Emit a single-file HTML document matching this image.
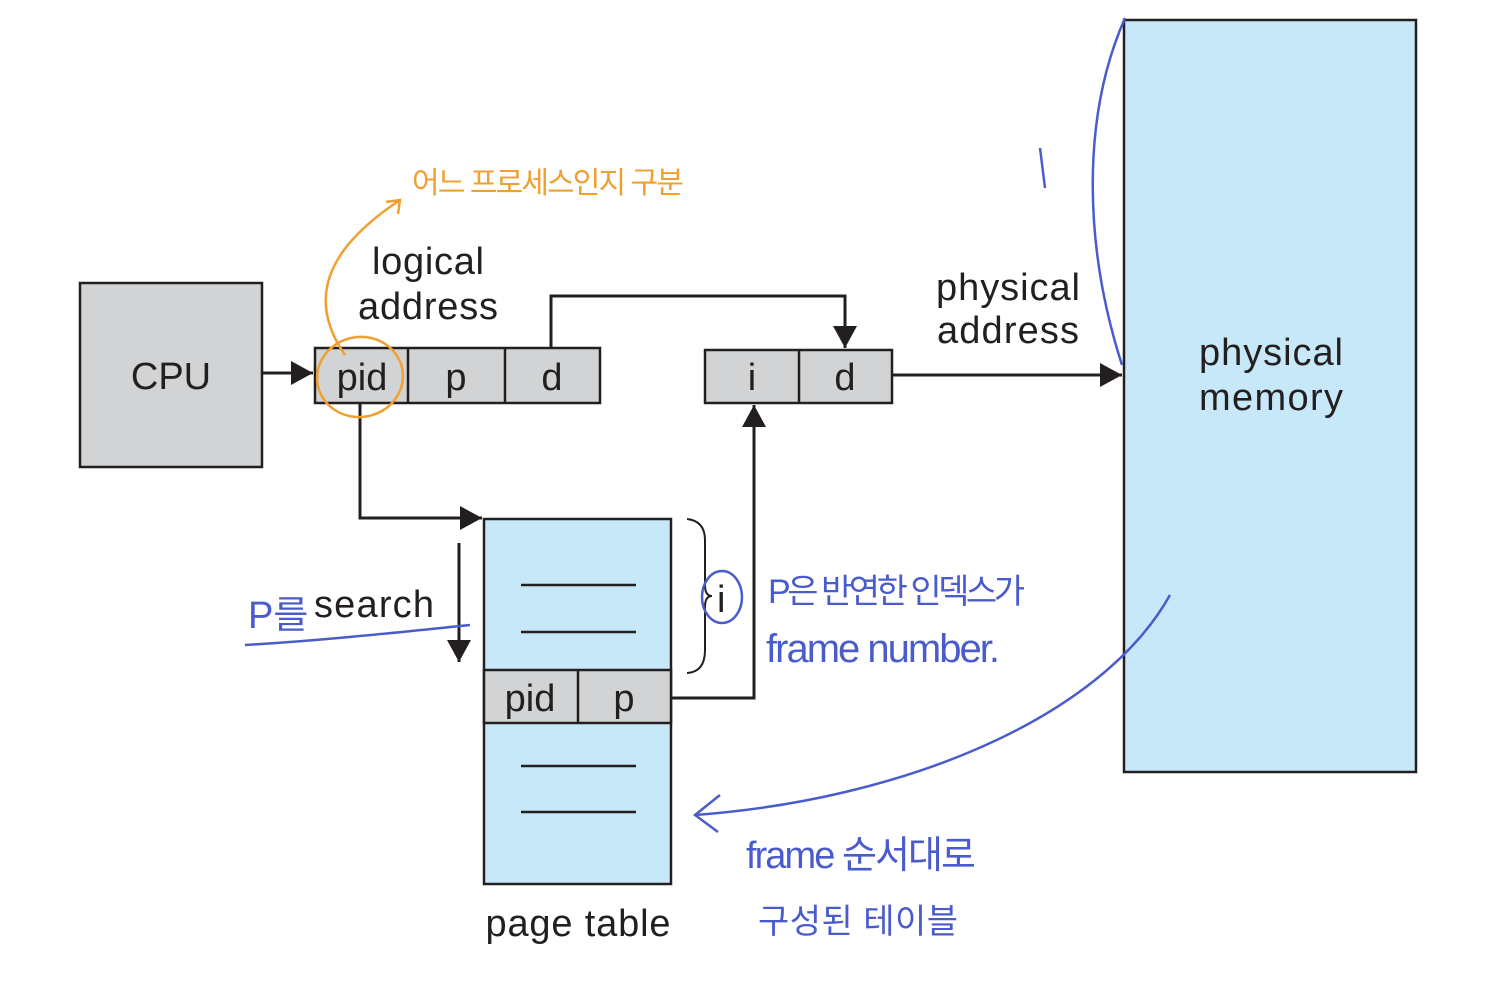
<!DOCTYPE html>
<html><head><meta charset="utf-8"><style>
html,body{margin:0;padding:0;background:#fff;width:1485px;height:1000px;overflow:hidden}
svg{display:block}
text{font-family:"Liberation Sans",sans-serif;fill:#231f20}
.h{font-family:"Liberation Sans","Noto Sans CJK KR",sans-serif}
</style></head><body>
<svg width="1485" height="1000" viewBox="0 0 1485 1000">
<defs><marker id="b" markerWidth="24" markerHeight="24" refX="22" refY="12" orient="auto" markerUnits="userSpaceOnUse"><path d="M0,0 L22,12 L0,24z" fill="#231f20"/></marker></defs>
<g stroke="#231f20" stroke-width="2.5">
<rect x="80" y="283" width="182" height="184" fill="#d1d3d4"/>
<rect x="315" y="348" width="285" height="55" fill="#d1d3d4"/>
<line x1="408" y1="348" x2="408" y2="403"/><line x1="505" y1="348" x2="505" y2="403"/>
<rect x="705" y="350" width="187" height="53" fill="#d1d3d4"/>
<line x1="799" y1="350" x2="799" y2="403"/>
<rect x="1124" y="20" width="292" height="752" fill="#c7e8f9"/>
<rect x="484" y="519" width="187" height="365" fill="#c7e8f9"/>
<rect x="484" y="670" width="187" height="53" fill="#d1d3d4"/>
<line x1="578" y1="670" x2="578" y2="723"/>
<line x1="521" y1="585" x2="636" y2="585"/><line x1="521" y1="632" x2="636" y2="632"/>
<line x1="521" y1="766" x2="636" y2="766"/><line x1="521" y1="812" x2="636" y2="812"/>
<g fill="none" stroke-width="3">
<polyline points="262,373 313,373" marker-end="url(#b)"/>
<polyline points="551,348 551,296 845,296 845,348" marker-end="url(#b)"/>
<polyline points="360,403 360,518 482,518" marker-end="url(#b)"/>
<polyline points="671,698 754,698 754,405" marker-end="url(#b)"/>
<polyline points="892,375 1122,375" marker-end="url(#b)"/>
<polyline points="459,543 459,662" marker-end="url(#b)"/>
<path d="M687,519 Q705,521 705,540 L705,585 Q705,596 712,596 Q705,596 705,607 L705,650 Q705,672 687,673" stroke-width="2"/>
</g></g>
<g font-size="38">
<text x="171" y="389" text-anchor="middle">CPU</text>
<text x="362" y="390" text-anchor="middle">pid</text>
<text x="456" y="390" text-anchor="middle">p</text>
<text x="552" y="390" text-anchor="middle">d</text>
<text x="752" y="390" text-anchor="middle">i</text>
<text x="845" y="390" text-anchor="middle">d</text>
<text x="530" y="711" text-anchor="middle">pid</text>
<text x="624" y="711" text-anchor="middle">p</text>
<text x="428" y="274" text-anchor="middle" textLength="112">logical</text>
<text x="428" y="319" text-anchor="middle" textLength="140">address</text>
<text x="1008" y="300" text-anchor="middle" textLength="144">physical</text>
<text x="1008" y="343" text-anchor="middle" textLength="142">address</text>
<text x="1271" y="365" text-anchor="middle" textLength="144">physical</text>
<text x="1271" y="410" text-anchor="middle" textLength="144">memory</text>
<text x="578" y="936" text-anchor="middle" textLength="185">page table</text>
<text x="314" y="617" textLength="120">search</text>
<text x="717" y="612">i</text>
</g>
<g fill="none" stroke="#f0a030" stroke-width="2.5">
<ellipse cx="360" cy="377" rx="43" ry="40" transform="rotate(-10 360 377)"/>
<path d="M345,355 C300,290 340,240 400,200 M386,202 L400,200 L398,214"/>
</g>
<text class="h" x="412" y="193" font-size="30" textLength="272" style="fill:#f0a030">어느 프로세스인지 구분</text>
<g fill="none" stroke="#4a5ccc" stroke-width="2.5">
<path d="M1125,18 C1080,120 1085,250 1122,365"/>
<path d="M1040,148 L1045,188"/>
<path d="M245,645 C330,640 420,630 470,625"/>
<ellipse cx="722" cy="597" rx="20" ry="26"/>
<path d="M1170,595 C1100,720 900,800 695,815 M720,795 L695,815 L718,832"/>
</g>
<g class="h">
<text x="248" y="628" style="fill:#4a5ccc" font-size="38">P를</text>
<text x="768" y="603" style="fill:#4a5ccc" font-size="34" textLength="257">P은 반연한 인덱스가</text>
<text x="766" y="662" style="fill:#4a5ccc" font-size="40" textLength="234">frame number.</text>
<text x="746" y="868" style="fill:#4a5ccc" font-size="38" textLength="230">frame 순서대로</text>
<text x="758" y="933" style="fill:#4a5ccc" font-size="34" textLength="200">구성된 테이블</text>
</g>
</svg>
</body></html>
